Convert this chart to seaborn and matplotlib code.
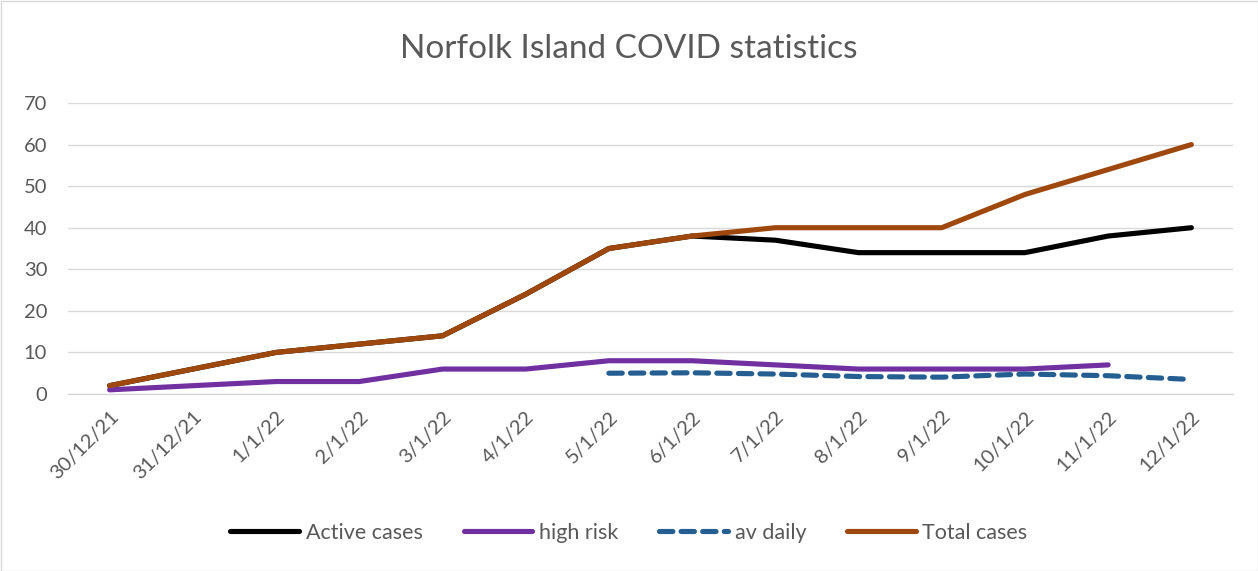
import matplotlib
matplotlib.use("Agg")
import matplotlib.pyplot as plt
import seaborn as sns
import pandas as pd
import numpy as np
from matplotlib.patches import Rectangle

dates = ["30/12/21", "31/12/21", "1/1/22", "2/1/22", "3/1/22", "4/1/22", "5/1/22",
         "6/1/22", "7/1/22", "8/1/22", "9/1/22", "10/1/22", "11/1/22", "12/1/22"]
active_cases = [2, 6, 10, 12, 14, 24, 35, 38, 37, 34, 34, 34, 38, 40]
high_risk = [1, 2, 3, 3, 6, 6, 8, 8, 7, 6, 6, 6, 7, np.nan]
av_daily = [np.nan, np.nan, np.nan, np.nan, np.nan, np.nan, 5.0, 5.1, 4.8, 4.2, 4.05, 4.8, 4.4, 3.5]
total_cases = [2, 6, 10, 12, 14, 24, 35, 38, 40, 40, 40, 48, 54, 60]

series_names = ["Active cases", "high risk", "av daily", "Total cases"]
colors = {"Active cases": "#000000", "high risk": "#7030A0",
          "av daily": "#255E91", "Total cases": "#9E480E"}
dash_map = {"Active cases": "", "high risk": "", "av daily": (2.6, 1.6), "Total cases": ""}

pos = np.arange(len(dates))
wide = pd.DataFrame({"pos": pos, "Active cases": active_cases, "high risk": high_risk,
                     "av daily": av_daily, "Total cases": total_cases})
long = wide.melt(id_vars="pos", var_name="series", value_name="value").dropna()

sns.set_theme(style="white")
plt.rcParams["font.family"] = ["Lato", "DejaVu Sans"]
text_col = "#595959"
grid_col = "#d9d9d9"

fig = plt.figure(figsize=(12.58, 5.71), dpi=100)
ax = fig.add_axes([68 / 1258, 1 - 394 / 571, (1233 - 68) / 1258, (394 - 103) / 571])

sns.lineplot(data=long, x="pos", y="value", hue="series", style="series",
             hue_order=series_names, style_order=series_names,
             palette=colors, dashes=dash_map, linewidth=3.7, ax=ax)
for line in ax.lines:
    line.set_solid_capstyle("round")
    line.set_dash_capstyle("round")
    line.set_solid_joinstyle("round")

handles, labels = ax.get_legend_handles_labels()
ax.get_legend().remove()

ax.set_xlim(-0.5, len(dates) - 0.5)
ax.set_ylim(0, 70)
ax.set_yticks(range(0, 71, 10))
ax.set_xticks(pos)
ax.set_xticklabels(dates, rotation=45, ha="right", va="top", rotation_mode="anchor")
ax.set_xticks(np.arange(-0.5, len(dates), 1), minor=True)
ax.tick_params(axis="x", which="major", length=0, pad=10, labelsize=14.5, colors=text_col)
ax.tick_params(axis="x", which="minor", length=6, width=1, color=grid_col, direction="out")
ax.tick_params(axis="y", length=0, pad=15, labelsize=14.5, colors=text_col)
ax.grid(axis="y", color=grid_col, linewidth=1)
ax.set_axisbelow(True)
ax.set_xlabel("")
ax.set_ylabel("")
for side in ["top", "right", "left"]:
    ax.spines[side].set_visible(False)
ax.spines["bottom"].set_color(grid_col)
ax.spines["bottom"].set_linewidth(1)

fig.text(0.5, 1 - 49 / 571, "Norfolk Island COVID statistics", ha="center", va="center",
         fontsize=24, color=text_col)

leg = fig.legend(handles, labels, loc="center", bbox_to_anchor=(0.5, 1 - 533 / 571), ncol=4,
                 frameon=False, fontsize=15.5, handlelength=3.2, handletextpad=0.3,
                 columnspacing=1.9)
for t in leg.get_texts():
    t.set_color(text_col)
for h in leg.get_lines():
    h.set_linewidth(3.7)
    h.set_solid_capstyle("round")
    h.set_dash_capstyle("round")

fig.patches.append(Rectangle((0.5 / 1258, 0.5 / 571), 1 - 1 / 1258, 1 - 1 / 571,
                             transform=fig.transFigure, fill=False,
                             edgecolor=grid_col, linewidth=1))

fig.savefig("out.png", dpi=100)
